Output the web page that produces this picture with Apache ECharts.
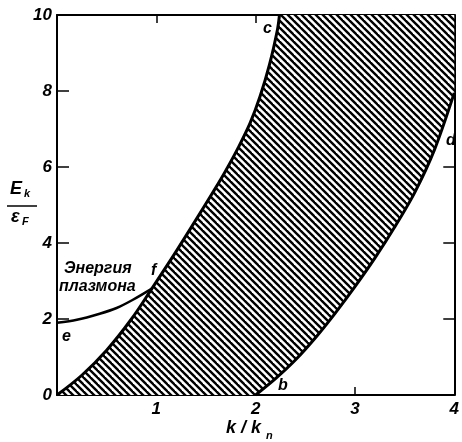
<!DOCTYPE html>
<html>
<head>
<meta charset="utf-8">
<script src="https://cdn.jsdelivr.net/npm/echarts@6/dist/echarts.min.js"></script>
<style>
html, body { margin: 0; padding: 0; background: #fff; }
#chart { width: 462px; height: 442px; }
</style>
</head>
<body>
<div id="chart"></div>
<script>
// Upper edge of the continuum, from the origin through f up to c
const upperK = [0, 0.25, 0.5, 0.75, 0.955, 1.2, 1.43, 1.576, 1.696, 1.825, 1.945, 2.045, 2.14, 2.22, 2.24];
const upperE = [0, 0.52, 1.18, 2.0, 2.8, 3.78, 4.74, 5.36, 5.89, 6.51, 7.16, 7.86, 8.7, 9.62, 10];
// Lower edge of the continuum, from b up to d
const lowerK = [2.0, 2.2, 2.4, 2.6, 2.8, 3.0, 3.2, 3.4, 3.6, 3.8, 4.0];
const lowerE = [0, 0.43, 0.92, 1.5, 2.15, 2.85, 3.6, 4.42, 5.32, 6.45, 7.95];
// Plasmon branch, from e to f
const plasmonK = [0, 0.2, 0.43, 0.6, 0.76, 0.955];
const plasmonE = [1.9, 1.98, 2.14, 2.29, 2.5, 2.8];
// Axis ranges and tick labels
const xTicks = [0, 1, 2, 3, 4];
const yTicks = [0, 2, 4, 6, 8, 10];
const xMin = xTicks[0], xMax = xTicks[xTicks.length - 1];
const yMin = yTicks[0], yMax = yTicks[yTicks.length - 1];

const FONT = '"Liberation Sans", Arial, sans-serif';

// Diagonal hatching tile
function makeHatch() {
  const s = 7;
  const c = document.createElement('canvas');
  c.width = s; c.height = s;
  const g = c.getContext('2d');
  g.fillStyle = '#fff';
  g.fillRect(0, 0, s, s);
  g.strokeStyle = '#000';
  g.lineWidth = 2.4;
  [-s, 0, s].forEach(function (off) {
    g.beginPath();
    g.moveTo(off - 1, -1);
    g.lineTo(off + s + 1, s + 1);
    g.stroke();
  });
  return { image: c, repeat: 'repeat' };
}
const hatch = makeHatch();

function pairs(ks, es) { return ks.map(function (k, i) { return [k, es[i]]; }); }

const chart = echarts.init(document.getElementById('chart'), null, { renderer: 'canvas' });

const axisLineStyle = { color: '#000', width: 2 };
const labelStyle = { color: '#000', fontFamily: FONT, fontSize: 17, fontStyle: 'italic', fontWeight: 'bold' };

function txt(x, y, text, size) {
  return {
    type: 'text', x: x, y: y, z: 100,
    style: { text: text, fill: '#000', font: 'italic bold ' + size + 'px ' + FONT }
  };
}

chart.setOption({
  animation: false,
  backgroundColor: '#fff',
  grid: { left: 57, right: 4, top: 15, bottom: 47, containLabel: false },
  xAxis: [
    {
      type: 'value', position: 'bottom', min: xMin, max: xMax, interval: 1,
      axisLine: { onZero: false, lineStyle: axisLineStyle },
      axisTick: { inside: true, length: 8, lineStyle: { color: '#000', width: 1.5 } },
      axisLabel: Object.assign({ margin: 6, formatter: function (v) { return v === 0 ? '' : String(v); } }, labelStyle),
      splitLine: { show: false }
    },
    {
      type: 'value', position: 'top', min: xMin, max: xMax, interval: 1,
      axisLine: { onZero: false, lineStyle: axisLineStyle },
      axisTick: { inside: true, length: 8, lineStyle: { color: '#000', width: 1.5 } },
      axisLabel: { show: false },
      splitLine: { show: false }
    }
  ],
  yAxis: [
    {
      type: 'value', position: 'left', min: yMin, max: yMax, interval: 2,
      axisLine: { onZero: false, lineStyle: axisLineStyle },
      axisTick: { inside: true, length: 12, lineStyle: { color: '#000', width: 1.5 } },
      axisLabel: Object.assign({ margin: 5 }, labelStyle),
      splitLine: { show: false }
    },
    {
      type: 'value', position: 'right', min: yMin, max: yMax, interval: 2,
      axisLine: { onZero: false, lineStyle: axisLineStyle },
      axisTick: { inside: true, length: 11, lineStyle: { color: '#000', width: 1.5 } },
      axisLabel: { show: false },
      splitLine: { show: false }
    }
  ],
  series: [
    {
      // hatched region between the two edges, capped by the top of the frame
      type: 'custom',
      clip: true,
      data: [0],
      z: 1,
      renderItem: function (params, api) {
        const pts = [];
        upperK.forEach(function (k, i) { pts.push(api.coord([k, upperE[i]])); });
        pts.push(api.coord([xMax, yMax]));
        for (let i = lowerK.length - 1; i >= 0; i--) pts.push(api.coord([lowerK[i], lowerE[i]]));
        return { type: 'polygon', shape: { points: pts }, style: { fill: hatch, stroke: null } };
      }
    },
    {
      type: 'line', data: pairs(upperK, upperE), smooth: 0.35, showSymbol: false, z: 5,
      lineStyle: { color: '#000', width: 3 }
    },
    {
      type: 'line', data: pairs(lowerK, lowerE), smooth: 0.3, showSymbol: false, z: 5,
      lineStyle: { color: '#000', width: 3 }
    },
    {
      type: 'line', data: pairs(plasmonK, plasmonE), smooth: 0.3, showSymbol: false, z: 5,
      lineStyle: { color: '#000', width: 2.5 }
    }
  ],
  graphic: [
    // y-axis name: E_k over ε_F
    txt(10, 180, 'E', 18),
    txt(24, 188, 'k', 11),
    { type: 'line', z: 100, shape: { x1: 7, y1: 206, x2: 37, y2: 206 }, style: { stroke: '#000', lineWidth: 1.5 } },
    txt(11, 208, 'ε', 18),
    txt(22, 216, 'F', 11),
    // x-axis name: k / k_n
    txt(226, 419, 'k / k', 18),
    txt(266, 430, 'n', 11),
    // point letters
    txt(263, 21, 'c', 16),
    txt(446, 133, 'd', 16),
    txt(278, 378, 'b', 16),
    txt(62, 329, 'e', 16),
    txt(151, 263, 'f', 16),
    // plasmon label
    txt(64, 261, 'Энергия', 16),
    txt(59, 279, 'плазмона', 16)
  ]
});
</script>
</body>
</html>
